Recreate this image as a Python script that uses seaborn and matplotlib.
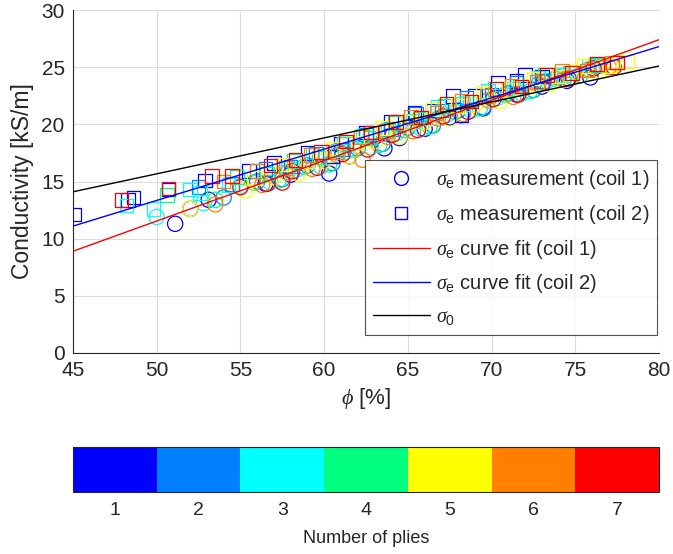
import numpy as np
import pandas as pd
import matplotlib
matplotlib.use("Agg")
import matplotlib.pyplot as plt
import seaborn as sns
from matplotlib.colors import ListedColormap, BoundaryNorm
from matplotlib.lines import Line2D
import matplotlib.colorbar as mcolorbar

# ---------------- data ----------------
ply_colors = ['#0000FF', '#0080FF', '#00FFFF', '#00FF80', '#FFFF00', '#FF8000', '#FF0000']
ply_labels = ['1', '2', '3', '4', '5', '6', '7']

# coil 1 (circles): phi and sigma per number of plies
c1_phi = {
    1: [51.1, 52.0, 53.1, 56.5, 58.0, 60.3, 61.5, 63.6, 64.5, 66.0, 67.5, 68.2, 69.5, 71.5, 73.0, 74.5, 75.9],
    2: [54.0, 56.0, 57.5, 59.0, 60.5, 62.0, 63.5, 65.0, 66.5, 68.0, 69.5, 71.0, 72.5, 74.0],
    3: [50.0, 52.8, 55.0, 56.8, 58.3, 59.8, 61.3, 62.8, 64.3, 65.8, 67.3, 68.8, 70.3, 71.8, 73.3, 74.8, 76.0],
    4: [53.5, 55.8, 57.3, 58.8, 60.3, 61.8, 63.3, 64.8, 66.3, 67.8, 69.3, 70.8, 72.3, 73.8, 75.3, 76.6],
    5: [52.0, 55.3, 57.0, 58.5, 60.0, 61.5, 63.0, 64.5, 66.0, 67.5, 69.0, 70.5, 72.0, 73.5, 75.0, 76.5, 77.5],
    6: [53.5, 56.3, 57.8, 59.3, 60.8, 62.3, 63.8, 65.3, 66.8, 68.3, 69.8, 71.3, 72.8, 74.3, 75.8, 77.0],
    7: [55.0, 56.6, 57.5, 58.1, 59.6, 61.1, 62.6, 64.1, 65.6, 67.1, 68.6, 70.1, 71.6, 73.1, 74.6, 76.1, 77.3],
}
c1_sig = {
    1: [11.3, 12.6, 13.4, 14.8, 15.6, 15.7, 17.2, 17.9, 18.8, 19.6, 20.6, 20.8, 21.4, 22.6, 23.3, 23.8, 24.1],
    2: [13.6, 15.0, 15.2, 16.4, 16.6, 17.9, 18.3, 19.7, 19.9, 21.2, 21.5, 22.7, 23.0, 24.1],
    3: [11.9, 13.1, 14.6, 14.9, 16.0, 16.3, 17.6, 18.0, 19.2, 19.6, 20.8, 21.2, 22.3, 22.7, 23.8, 24.1, 24.9],
    4: [13.4, 14.9, 15.1, 16.3, 16.5, 17.8, 18.2, 19.5, 19.8, 21.1, 21.4, 22.6, 22.9, 24.0, 24.3, 25.1],
    5: [12.6, 14.2, 15.4, 15.7, 16.8, 17.2, 18.5, 18.9, 20.2, 20.5, 21.7, 22.0, 23.2, 23.5, 24.6, 24.7, 25.3],
    6: [13.0, 14.7, 15.8, 16.1, 17.3, 16.9, 18.9, 19.4, 20.5, 20.9, 22.1, 22.4, 23.5, 23.9, 24.8, 25.0],
    7: [14.5, 14.8, 14.9, 15.9, 16.2, 17.4, 17.8, 19.1, 19.5, 20.7, 21.1, 22.2, 22.6, 23.7, 24.0, 24.9, 25.0],
}

# coil 2 (squares)
c2_phi = {
    1: [45.1, 48.3, 48.6, 50.7, 52.9, 55.5, 57.0, 59.0, 60.5, 61.0, 62.5, 64.0, 65.4, 66.5, 67.7, 68.2, 69.0, 70.4, 71.5, 72.0, 73.0],
    2: [52.5, 54.5, 56.5, 58.0, 59.5, 61.0, 62.5, 64.0, 65.5, 67.0, 68.5, 70.0, 71.5, 73.0],
    3: [48.2, 49.8, 52.0, 52.6, 54.3, 56.0, 57.8, 59.3, 60.8, 62.3, 63.8, 65.3, 66.8, 68.3, 69.8, 71.3, 72.8, 74.3, 75.8],
    4: [50.6, 54.8, 56.6, 58.2, 59.7, 61.2, 62.7, 64.2, 65.7, 67.2, 68.7, 70.2, 71.7, 73.2, 74.7, 76.2],
    5: [55.8, 57.5, 59.0, 60.5, 62.0, 63.5, 65.0, 66.5, 68.0, 69.5, 71.0, 72.5, 74.0, 75.5, 77.0, 78.1],
    6: [54.0, 56.0, 57.7, 59.2, 60.7, 62.2, 63.7, 65.2, 66.7, 68.2, 69.7, 71.2, 72.7, 74.2, 75.7, 77.2],
    7: [47.9, 50.7, 53.3, 54.5, 56.8, 58.3, 59.8, 61.3, 62.8, 64.3, 65.8, 67.3, 68.8, 70.3, 71.8, 73.3, 74.8, 76.3, 77.5],
}
c2_sig = {
    1: [12.1, 13.4, 13.6, 14.3, 15.1, 15.9, 16.6, 17.5, 17.2, 18.3, 19.3, 20.2, 21.0, 21.2, 22.5, 20.8, 22.5, 23.6, 23.8, 24.3, 24.2],
    2: [14.5, 14.8, 16.1, 16.3, 17.4, 17.8, 19.1, 19.6, 20.9, 21.2, 22.3, 22.6, 23.6, 23.8],
    3: [12.9, 12.6, 14.3, 14.0, 14.7, 15.9, 16.2, 17.3, 17.7, 19.0, 19.5, 20.3, 21.5, 21.8, 22.9, 23.1, 24.1, 24.3, 25.1],
    4: [13.8, 15.4, 15.7, 16.8, 17.1, 18.3, 18.8, 20.1, 20.5, 21.6, 22.0, 23.1, 23.3, 24.3, 24.5, 25.2],
    5: [15.3, 16.5, 16.8, 17.9, 18.4, 19.7, 20.2, 21.3, 21.6, 22.8, 23.0, 24.0, 24.2, 25.1, 25.1, 25.5],
    6: [15.0, 15.9, 16.2, 17.3, 17.6, 18.9, 19.4, 20.7, 21.0, 22.1, 22.5, 23.4, 23.7, 24.7, 24.7, 25.4],
    7: [13.4, 14.4, 15.5, 15.5, 16.4, 16.9, 17.6, 18.5, 19.3, 20.2, 20.6, 21.8, 22.0, 23.1, 23.3, 24.3, 24.5, 25.3, 25.4],
}

# curve fits (end values at phi = 45 and 80)
fit_phi = [45, 80]
fit_coil1 = [8.9, 27.4]
fit_coil2 = [11.1, 26.8]
sigma0 = [14.1, 25.1]

# ---------------- build tables ----------------
def table(phi_d, sig_d):
    rows = []
    for p in range(1, 8):
        for x, y in zip(phi_d[p], sig_d[p]):
            rows.append((x, y, str(p)))
    return pd.DataFrame(rows, columns=['phi', 'sigma', 'plies'])

df1 = table(c1_phi, c1_sig)
df2 = table(c2_phi, c2_sig)
pal = dict(zip(ply_labels, ply_colors))

# ---------------- figure ----------------
sns.set_style('white')
plt.rcParams['font.family'] = ['Liberation Sans', 'DejaVu Sans']
plt.rcParams['mathtext.fontset'] = 'custom'
plt.rcParams['mathtext.rm'] = 'Liberation Sans'
plt.rcParams['mathtext.it'] = 'Liberation Serif:italic'

fig = plt.figure(figsize=(6.73, 5.54), dpi=100)
ax = fig.add_axes([73/673, 1-353/554, (659-73)/673, (353-10)/554])

def open_scatter(df, marker, size):
    n0 = len(ax.collections)
    sns.scatterplot(data=df, x='phi', y='sigma', hue='plies', palette=pal,
                    hue_order=ply_labels, marker=marker, s=size, ax=ax,
                    legend=False, linewidth=0.9, zorder=3)
    for coll in ax.collections[n0:]:
        fc = coll.get_facecolors()
        coll.set_edgecolors(fc)
        coll.set_facecolors('none')

open_scatter(df1, 'o', 120)
open_scatter(df2, 's', 95)

sns.lineplot(x=fit_phi, y=fit_coil1, color='#FF0000', lw=1.0, ax=ax, zorder=4)
sns.lineplot(x=fit_phi, y=fit_coil2, color='#0000FF', lw=1.0, ax=ax, zorder=4)
sns.lineplot(x=fit_phi, y=sigma0, color='black', lw=1.0, ax=ax, zorder=4)

ax.set_xlim(45, 80)
ax.set_ylim(0, 30)
ax.set_xticks(range(45, 81, 5))
ax.set_yticks(range(0, 31, 5))
ax.grid(True, color='#DCDCDC', lw=0.8)
ax.set_axisbelow(True)
for s in ['top', 'right']:
    ax.spines[s].set_visible(False)
for s in ['left', 'bottom']:
    ax.spines[s].set_color('#262626')
    ax.spines[s].set_linewidth(0.8)
ax.tick_params(direction='in', length=4, width=0.8, color='#262626',
               labelsize=15, labelcolor='#262626', pad=6)
ax.set_xlabel(r'$\phi$ [%]', fontsize=16, color='#262626', labelpad=4)
ax.set_ylabel('Conductivity [kS/m]', fontsize=16.5, color='#262626', labelpad=5)

handles = [
    Line2D([], [], ls='none', marker='o', mfc='none', mec='#0000FF', ms=10, mew=1.0),
    Line2D([], [], ls='none', marker='s', mfc='none', mec='#0000FF', ms=8, mew=1.0),
    Line2D([], [], color='#FF0000', lw=1.0),
    Line2D([], [], color='#0000FF', lw=1.0),
    Line2D([], [], color='black', lw=1.0),
]
labels = [r'$\sigma_{\mathrm{e}}$ measurement (coil 1)',
          r'$\sigma_{\mathrm{e}}$ measurement (coil 2)',
          r'$\sigma_{\mathrm{e}}$ curve fit (coil 1)',
          r'$\sigma_{\mathrm{e}}$ curve fit (coil 2)',
          r'$\sigma_0$']
leg = ax.legend(handles, labels, loc='lower right', bbox_to_anchor=(0.997, 0.052),
                fontsize=14.5, frameon=True, fancybox=False, edgecolor='#262626',
                handlelength=2.8, labelspacing=0.58, borderpad=0.4, handletextpad=0.3,
                borderaxespad=0.0)
leg.get_frame().set_linewidth(0.8)
leg.set_zorder(10)

# ---------------- colorbar ----------------
cax = fig.add_axes([73/673, 1-492/554, (659-73)/673, 45/554])
cmap = ListedColormap(ply_colors)
norm = BoundaryNorm(np.arange(0.5, 8.5, 1), cmap.N)
cb = mcolorbar.ColorbarBase(cax, cmap=cmap, norm=norm, orientation='horizontal',
                            ticks=range(1, 8))
cb.set_ticklabels(ply_labels)
cb.outline.set_edgecolor('#262626')
cb.outline.set_linewidth(0.8)
cax.tick_params(length=0, labelsize=14, labelcolor='#262626', pad=7)
cax.set_xticks(np.arange(1.5, 7.5, 1), minor=True)
cax.tick_params(which='minor', direction='in', length=4, color='#262626')
cb.set_label('Number of plies', fontsize=13, color='#262626', labelpad=8)

fig.savefig('out.png', dpi=100)
